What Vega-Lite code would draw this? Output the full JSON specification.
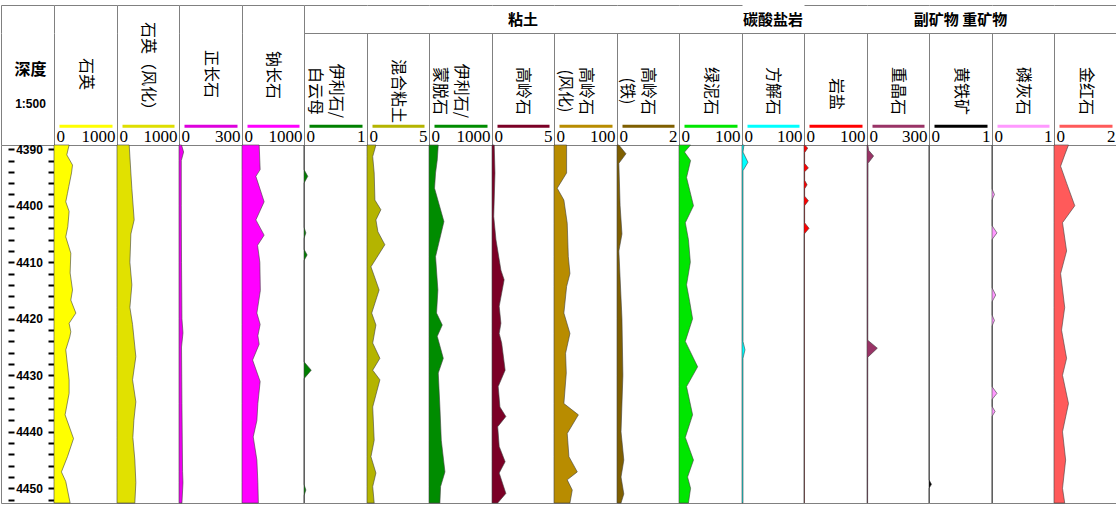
{
  "$schema": "https://vega.github.io/schema/vega-lite/v6.json",
  "padding": {"left": 0, "top": 5, "right": 0, "bottom": 0},
  "background": "white",
  "config": {
    "view": {"stroke": "#808080", "strokeWidth": 1},
    "text": {"font": "Noto Sans CJK SC", "color": "#000"},
    "axis": {"gridColor": "#808080", "gridOpacity": 1, "gridWidth": 1}
  },
  "datasets": {
    "logs": [
      {"k":"石英","d":4389.25,"v":240},{"k":"石英","d":4391.0,"v":203},{"k":"石英","d":4392.8,"v":294},{"k":"石英","d":4394.2,"v":278},{"k":"石英","d":4396.6,"v":235},{"k":"石英","d":4397.8,"v":214},{"k":"石英","d":4399.3,"v":187},{"k":"石英","d":4401.0,"v":240},{"k":"石英","d":4403.7,"v":219},{"k":"石英","d":4405.5,"v":187},{"k":"石英","d":4408.4,"v":267},{"k":"石英","d":4411.9,"v":256},{"k":"石英","d":4414.9,"v":294},{"k":"石英","d":4416.7,"v":267},{"k":"石英","d":4419.0,"v":347},{"k":"石英","d":4420.8,"v":240},{"k":"石英","d":4422.3,"v":267},{"k":"石英","d":4423.2,"v":251},{"k":"石英","d":4425.5,"v":187},{"k":"石英","d":4430.8,"v":240},{"k":"石英","d":4433.2,"v":240},{"k":"石英","d":4437.0,"v":176},{"k":"石英","d":4441.2,"v":310},{"k":"石英","d":4444.4,"v":214},{"k":"石英","d":4447.1,"v":118},{"k":"石英","d":4448.8,"v":187},{"k":"石英","d":4452.6,"v":256},
      {"k":"石英（风化）","d":4389.25,"v":197},{"k":"石英（风化）","d":4394.2,"v":224},{"k":"石英（风化）","d":4397.0,"v":240},{"k":"石英（风化）","d":4402.5,"v":277},{"k":"石英（风化）","d":4405.0,"v":224},{"k":"石英（风化）","d":4410.0,"v":208},{"k":"石英（风化）","d":4414.0,"v":240},{"k":"石英（风化）","d":4418.0,"v":208},{"k":"石英（风化）","d":4421.0,"v":251},{"k":"石英（风化）","d":4426.7,"v":304},{"k":"石英（风化）","d":4430.8,"v":251},{"k":"石英（风化）","d":4434.7,"v":304},{"k":"石英（风化）","d":4438.0,"v":272},{"k":"石英（风化）","d":4441.0,"v":256},{"k":"石英（风化）","d":4445.0,"v":288},{"k":"石英（风化）","d":4449.0,"v":304},{"k":"石英（风化）","d":4452.6,"v":288},
      {"k":"正长石","d":4389.25,"v":12},{"k":"正长石","d":4390.5,"v":22},{"k":"正长石","d":4392.0,"v":11},{"k":"正长石","d":4400.0,"v":11},{"k":"正长石","d":4410.0,"v":12},{"k":"正长石","d":4420.0,"v":14},{"k":"正长石","d":4422.5,"v":19},{"k":"正长石","d":4425.0,"v":12},{"k":"正长石","d":4435.0,"v":14},{"k":"正长石","d":4447.0,"v":17},{"k":"正长石","d":4449.0,"v":19},{"k":"正长石","d":4452.6,"v":14},
      {"k":"钠长石","d":4389.25,"v":277},{"k":"钠长石","d":4393.6,"v":293},{"k":"钠长石","d":4394.8,"v":224},{"k":"钠长石","d":4399.3,"v":357},{"k":"钠长石","d":4402.5,"v":224},{"k":"钠长石","d":4405.2,"v":357},{"k":"钠长石","d":4407.0,"v":251},{"k":"钠长石","d":4410.0,"v":288},{"k":"钠长石","d":4415.0,"v":296},{"k":"钠长石","d":4419.0,"v":240},{"k":"钠长石","d":4421.0,"v":293},{"k":"钠长石","d":4423.0,"v":256},{"k":"钠长石","d":4424.5,"v":277},{"k":"钠长石","d":4427.3,"v":171},{"k":"钠长石","d":4431.1,"v":293},{"k":"钠长石","d":4435.0,"v":256},{"k":"钠长石","d":4438.0,"v":240},{"k":"钠长石","d":4440.9,"v":181},{"k":"钠长石","d":4445.0,"v":240},{"k":"钠长石","d":4449.0,"v":256},{"k":"钠长石","d":4452.6,"v":264},
      {"k":"伊利石/白云母","d":4389.25,"v":0},{"k":"伊利石/白云母","d":4393.6,"v":0},{"k":"伊利石/白云母","d":4394.8,"v":0.06},{"k":"伊利石/白云母","d":4396.0,"v":0},{"k":"伊利石/白云母","d":4403.8,"v":0},{"k":"伊利石/白云母","d":4404.8,"v":0.03},{"k":"伊利石/白云母","d":4405.8,"v":0},{"k":"伊利石/白云母","d":4407.7,"v":0},{"k":"伊利石/白云母","d":4408.7,"v":0.05},{"k":"伊利石/白云母","d":4409.7,"v":0},{"k":"伊利石/白云母","d":4427.6,"v":0},{"k":"伊利石/白云母","d":4429.1,"v":0.115},{"k":"伊利石/白云母","d":4430.6,"v":0},{"k":"伊利石/白云母","d":4449.3,"v":0},{"k":"伊利石/白云母","d":4450.3,"v":0.03},{"k":"伊利石/白云母","d":4451.3,"v":0},{"k":"伊利石/白云母","d":4452.6,"v":0},
      {"k":"混合粘土","d":4389.25,"v":0.72},{"k":"混合粘土","d":4391.3,"v":0.46},{"k":"混合粘土","d":4394.2,"v":0.58},{"k":"混合粘土","d":4399.0,"v":0.64},{"k":"混合粘土","d":4400.7,"v":1.12},{"k":"混合粘土","d":4402.5,"v":0.72},{"k":"混合粘土","d":4404.6,"v":0.88},{"k":"混合粘土","d":4406.9,"v":1.44},{"k":"混合粘土","d":4410.8,"v":0.32},{"k":"混合粘土","d":4414.9,"v":0.98},{"k":"混合粘土","d":4419.0,"v":0.38},{"k":"混合粘土","d":4421.1,"v":0.72},{"k":"混合粘土","d":4424.3,"v":0.46},{"k":"混合粘土","d":4427.0,"v":1.04},{"k":"混合粘土","d":4429.1,"v":0.46},{"k":"混合粘土","d":4430.8,"v":1.04},{"k":"混合粘土","d":4435.6,"v":0.46},{"k":"混合粘土","d":4441.5,"v":0.58},{"k":"混合粘土","d":4444.4,"v":0.32},{"k":"混合粘土","d":4447.3,"v":0.72},{"k":"混合粘土","d":4449.7,"v":0.46},{"k":"混合粘土","d":4452.6,"v":0.58},
      {"k":"伊利石/蒙脱石","d":4389.25,"v":147},{"k":"伊利石/蒙脱石","d":4391.9,"v":131},{"k":"伊利石/蒙脱石","d":4394.2,"v":104},{"k":"伊利石/蒙脱石","d":4396.9,"v":88},{"k":"伊利石/蒙脱石","d":4402.8,"v":237},{"k":"伊利石/蒙脱石","d":4409.0,"v":104},{"k":"伊利石/蒙脱石","d":4414.9,"v":141},{"k":"伊利石/蒙脱石","d":4419.0,"v":120},{"k":"伊利石/蒙脱石","d":4421.1,"v":211},{"k":"伊利石/蒙脱石","d":4423.1,"v":131},{"k":"伊利石/蒙脱石","d":4427.0,"v":227},{"k":"伊利石/蒙脱石","d":4429.6,"v":147},{"k":"伊利石/蒙脱石","d":4435.6,"v":173},{"k":"伊利石/蒙脱石","d":4441.5,"v":195},{"k":"伊利石/蒙脱石","d":4447.1,"v":253},{"k":"伊利石/蒙脱石","d":4449.7,"v":184},{"k":"伊利石/蒙脱石","d":4452.6,"v":173},
      {"k":"高岭石","d":4389.25,"v":0.18},{"k":"高岭石","d":4394.2,"v":0.24},{"k":"高岭石","d":4401.9,"v":0.14},{"k":"高岭石","d":4406.0,"v":0.32},{"k":"高岭石","d":4411.4,"v":0.72},{"k":"高岭石","d":4413.1,"v":0.98},{"k":"高岭石","d":4417.8,"v":0.58},{"k":"高岭石","d":4420.8,"v":0.72},{"k":"高岭石","d":4422.6,"v":0.58},{"k":"高岭石","d":4424.3,"v":0.78},{"k":"高岭石","d":4429.1,"v":1.06},{"k":"高岭石","d":4432.0,"v":0.5},{"k":"高岭石","d":4435.6,"v":0.64},{"k":"高岭石","d":4437.3,"v":1.12},{"k":"高岭石","d":4439.1,"v":0.46},{"k":"高岭石","d":4442.6,"v":0.58},{"k":"高岭石","d":4445.3,"v":1.06},{"k":"高岭石","d":4447.3,"v":0.58},{"k":"高岭石","d":4450.9,"v":1.12},{"k":"高岭石","d":4452.6,"v":0.46},
      {"k":"高岭石(风化)","d":4389.25,"v":20},{"k":"高岭石(风化)","d":4394.2,"v":20},{"k":"高岭石(风化)","d":4396.9,"v":5.1},{"k":"高岭石(风化)","d":4399.0,"v":15.7},{"k":"高岭石(风化)","d":4403.1,"v":21},{"k":"高岭石(风化)","d":4409.0,"v":22.7},{"k":"高岭石(风化)","d":4412.0,"v":25.3},{"k":"高岭石(风化)","d":4414.3,"v":20},{"k":"高岭石(风化)","d":4419.0,"v":15.7},{"k":"高岭石(风化)","d":4422.6,"v":25.3},{"k":"高岭石(风化)","d":4426.1,"v":18.4},{"k":"高岭石(风化)","d":4429.6,"v":19.5},{"k":"高岭石(风化)","d":4435.0,"v":15.7},{"k":"高岭石(风化)","d":4437.0,"v":38.7},{"k":"高岭石(风化)","d":4440.3,"v":21},{"k":"高岭石(风化)","d":4444.4,"v":23.7},{"k":"高岭石(风化)","d":4447.1,"v":37},{"k":"高岭石(风化)","d":4448.5,"v":21},{"k":"高岭石(风化)","d":4450.3,"v":29},{"k":"高岭石(风化)","d":4452.6,"v":25.3},
      {"k":"高岭石(铁)","d":4389.25,"v":0.06},{"k":"高岭石(铁)","d":4390.8,"v":0.29},{"k":"高岭石(铁)","d":4392.5,"v":0.06},{"k":"高岭石(铁)","d":4400.0,"v":0.1},{"k":"高岭石(铁)","d":4405.0,"v":0.16},{"k":"高岭石(铁)","d":4408.0,"v":0.06},{"k":"高岭石(铁)","d":4420.0,"v":0.16},{"k":"高岭石(铁)","d":4430.0,"v":0.19},{"k":"高岭石(铁)","d":4440.0,"v":0.13},{"k":"高岭石(铁)","d":4445.0,"v":0.22},{"k":"高岭石(铁)","d":4448.0,"v":0.13},{"k":"高岭石(铁)","d":4451.0,"v":0.22},{"k":"高岭石(铁)","d":4452.6,"v":0.13},
      {"k":"绿泥石","d":4389.25,"v":18.4},{"k":"绿泥石","d":4390.5,"v":8.8},{"k":"绿泥石","d":4392.0,"v":18.4},{"k":"绿泥石","d":4395.0,"v":12},{"k":"绿泥石","d":4400.0,"v":23},{"k":"绿泥石","d":4403.0,"v":10},{"k":"绿泥石","d":4406.0,"v":15},{"k":"绿泥石","d":4410.0,"v":18},{"k":"绿泥石","d":4414.0,"v":12},{"k":"绿泥石","d":4417.0,"v":17},{"k":"绿泥石","d":4420.0,"v":21.6},{"k":"绿泥石","d":4424.0,"v":10},{"k":"绿泥石","d":4428.5,"v":29.6},{"k":"绿泥石","d":4432.0,"v":12},{"k":"绿泥石","d":4437.0,"v":21.6},{"k":"绿泥石","d":4441.0,"v":10},{"k":"绿泥石","d":4445.0,"v":23},{"k":"绿泥石","d":4448.0,"v":13.6},{"k":"绿泥石","d":4450.0,"v":18.4},{"k":"绿泥石","d":4452.6,"v":15},
      {"k":"方解石","d":4389.25,"v":3.2},{"k":"方解石","d":4390.5,"v":1.6},{"k":"方解石","d":4392.3,"v":9.6},{"k":"方解石","d":4393.8,"v":1.6},{"k":"方解石","d":4424.0,"v":1.6},{"k":"方解石","d":4425.5,"v":4.8},{"k":"方解石","d":4427.0,"v":1.6},{"k":"方解石","d":4452.6,"v":1.6},
      {"k":"岩盐","d":4389.25,"v":1},{"k":"岩盐","d":4389.8,"v":6},{"k":"岩盐","d":4390.6,"v":1},{"k":"岩盐","d":4392.5,"v":1},{"k":"岩盐","d":4393.3,"v":7},{"k":"岩盐","d":4394.0,"v":1},{"k":"岩盐","d":4395.5,"v":1},{"k":"岩盐","d":4396.3,"v":5},{"k":"岩盐","d":4397.0,"v":1},{"k":"岩盐","d":4398.3,"v":1},{"k":"岩盐","d":4399.1,"v":7},{"k":"岩盐","d":4400.0,"v":1},{"k":"岩盐","d":4403.0,"v":1},{"k":"岩盐","d":4404.0,"v":8},{"k":"岩盐","d":4405.0,"v":0.5},{"k":"岩盐","d":4452.6,"v":0.5},
      {"k":"重晶石","d":4389.25,"v":4},{"k":"重晶石","d":4390.2,"v":8},{"k":"重晶石","d":4391.2,"v":32},{"k":"重晶石","d":4392.5,"v":5},{"k":"重晶石","d":4423.8,"v":4},{"k":"重晶石","d":4425.2,"v":50},{"k":"重晶石","d":4426.8,"v":4},{"k":"重晶石","d":4452.6,"v":3},
      {"k":"黄铁矿","d":4389.25,"v":0},{"k":"黄铁矿","d":4448.5,"v":0},{"k":"黄铁矿","d":4449.3,"v":0.04},{"k":"黄铁矿","d":4450.0,"v":0},{"k":"黄铁矿","d":4452.6,"v":0},
      {"k":"磷灰石","d":4389.25,"v":0},{"k":"磷灰石","d":4397.0,"v":0},{"k":"磷灰石","d":4398.0,"v":0.04},{"k":"磷灰石","d":4399.0,"v":0},{"k":"磷灰石","d":4403.5,"v":0},{"k":"磷灰石","d":4404.8,"v":0.08},{"k":"磷灰石","d":4406.0,"v":0},{"k":"磷灰石","d":4414.5,"v":0},{"k":"磷灰石","d":4415.8,"v":0.06},{"k":"磷灰石","d":4417.0,"v":0},{"k":"磷灰石","d":4419.3,"v":0},{"k":"磷灰石","d":4420.3,"v":0.04},{"k":"磷灰石","d":4421.3,"v":0},{"k":"磷灰石","d":4432.0,"v":0},{"k":"磷灰石","d":4433.2,"v":0.08},{"k":"磷灰石","d":4434.3,"v":0},{"k":"磷灰石","d":4435.5,"v":0},{"k":"磷灰石","d":4436.4,"v":0.05},{"k":"磷灰石","d":4437.3,"v":0},{"k":"磷灰石","d":4452.6,"v":0},
      {"k":"金红石","d":4389.25,"v":0.46},{"k":"金红石","d":4391.0,"v":0.34},{"k":"金红石","d":4393.0,"v":0.21},{"k":"金红石","d":4396.0,"v":0.4},{"k":"金红石","d":4400.0,"v":0.66},{"k":"金红石","d":4403.0,"v":0.27},{"k":"金红石","d":4408.0,"v":0.4},{"k":"金红石","d":4412.0,"v":0.21},{"k":"金红石","d":4418.0,"v":0.34},{"k":"金红石","d":4422.0,"v":0.24},{"k":"金红石","d":4427.0,"v":0.4},{"k":"金红石","d":4430.0,"v":0.27},{"k":"金红石","d":4435.0,"v":0.46},{"k":"金红石","d":4440.0,"v":0.27},{"k":"金红石","d":4445.0,"v":0.37},{"k":"金红石","d":4450.0,"v":0.27},{"k":"金红石","d":4452.6,"v":0.34}
    ],
    "depthTicks": [
      {"d":4390},{"d":4392},{"d":4394},{"d":4396},{"d":4398},{"d":4400},{"d":4402},{"d":4404},{"d":4406},{"d":4408},{"d":4410},{"d":4412},{"d":4414},{"d":4416},{"d":4418},{"d":4420},{"d":4422},{"d":4424},{"d":4426},{"d":4428},{"d":4430},{"d":4432},{"d":4434},{"d":4436},{"d":4438},{"d":4440},{"d":4442},{"d":4444},{"d":4446},{"d":4448},{"d":4450},{"d":4452}
    ]
  },
  "columns": 18,
  "spacing": 0,
  "align": "each",
  "bounds": "flush",
  "concat": [
    {"width": 53, "height": 28, "view": {"stroke": null}, "data": {"values": [{"t": "深度"}]},
      "mark": {"type": "text", "fontWeight": "bold", "fontSize": 16, "dx": 3, "dy": 51},
      "encoding": {"text": {"field": "t"},
        "x": {"datum": 0.5, "type": "quantitative", "scale": {"domain": [0, 1]}, "axis": {"values": [0], "grid": true, "domain": false, "ticks": false, "labels": false, "title": null}},
        "y": {"datum": 0.5, "type": "quantitative", "scale": {"domain": [0, 1]}, "axis": {"values": [1], "grid": true, "domain": false, "ticks": false, "labels": false, "title": null}}}},
    {"width": 63, "height": 28, "view": {"stroke": null}, "data": {"values": [{"t": ""}]}, "mark": {"type": "text"},
      "encoding": {"text": {"field": "t"},
        "x": {"datum": 0.5, "type": "quantitative", "scale": {"domain": [0, 1]}, "axis": {"values": [0], "grid": true, "domain": false, "ticks": false, "labels": false, "title": null}},
        "y": {"datum": 0.5, "type": "quantitative", "scale": {"domain": [0, 1]}, "axis": {"values": [1], "grid": true, "domain": false, "ticks": false, "labels": false, "title": null}}}},
    {"width": 62, "height": 28, "view": {"stroke": null}, "data": {"values": [{"t": ""}]}, "mark": {"type": "text"},
      "encoding": {"text": {"field": "t"},
        "x": {"datum": 0.5, "type": "quantitative", "scale": {"domain": [0, 1]}, "axis": {"values": [0], "grid": true, "domain": false, "ticks": false, "labels": false, "title": null}},
        "y": {"datum": 0.5, "type": "quantitative", "scale": {"domain": [0, 1]}, "axis": {"values": [1], "grid": true, "domain": false, "ticks": false, "labels": false, "title": null}}}},
    {"width": 63, "height": 28, "view": {"stroke": null}, "data": {"values": [{"t": ""}]}, "mark": {"type": "text"},
      "encoding": {"text": {"field": "t"},
        "x": {"datum": 0.5, "type": "quantitative", "scale": {"domain": [0, 1]}, "axis": {"values": [0], "grid": true, "domain": false, "ticks": false, "labels": false, "title": null}},
        "y": {"datum": 0.5, "type": "quantitative", "scale": {"domain": [0, 1]}, "axis": {"values": [1], "grid": true, "domain": false, "ticks": false, "labels": false, "title": null}}}},
    {"width": 62, "height": 28, "view": {"stroke": null}, "data": {"values": [{"t": ""}]}, "mark": {"type": "text"},
      "encoding": {"text": {"field": "t"},
        "x": {"datum": 0.5, "type": "quantitative", "scale": {"domain": [0, 1]}, "axis": {"values": [0], "grid": true, "domain": false, "ticks": false, "labels": false, "title": null}},
        "y": {"datum": 0.5, "type": "quantitative", "scale": {"domain": [0, 1]}, "axis": {"values": [1], "grid": true, "domain": false, "ticks": false, "labels": false, "title": null}}}},
    {"width": 63, "height": 28, "view": {"stroke": null}, "data": {"values": [{"t": ""}]}, "mark": {"type": "text"},
      "encoding": {"text": {"field": "t"},
        "x": {"datum": 0.5, "type": "quantitative", "scale": {"domain": [0, 1]}, "axis": {"values": [0], "grid": true, "domain": false, "ticks": false, "labels": false, "title": null}},
        "y": {"datum": 0.5, "type": "quantitative", "scale": {"domain": [0, 1]}, "axis": {"values": [0, 1], "grid": true, "domain": false, "ticks": false, "labels": false, "title": null}}}},
    {"width": 62, "height": 28, "view": {"stroke": null}, "data": {"values": [{"t": ""}]}, "mark": {"type": "text"},
      "encoding": {"text": {"field": "t"}, "y": {"datum": 0.5, "type": "quantitative", "scale": {"domain": [0, 1]}, "axis": {"values": [0, 1], "grid": true, "domain": false, "ticks": false, "labels": false, "title": null}}}},
    {"width": 63, "height": 28, "view": {"stroke": null}, "data": {"values": [{"t": ""}]}, "mark": {"type": "text"},
      "encoding": {"text": {"field": "t"}, "y": {"datum": 0.5, "type": "quantitative", "scale": {"domain": [0, 1]}, "axis": {"values": [0, 1], "grid": true, "domain": false, "ticks": false, "labels": false, "title": null}}}},
    {"width": 62, "height": 28, "view": {"stroke": null}, "data": {"values": [{"t": "粘土"}]}, "mark": {"type": "text", "fontWeight": "bold", "fontSize": 15, "dy": 1},
      "encoding": {"text": {"field": "t"}, "y": {"datum": 0.5, "type": "quantitative", "scale": {"domain": [0, 1]}, "axis": {"values": [0, 1], "grid": true, "domain": false, "ticks": false, "labels": false, "title": null}}}},
    {"width": 63, "height": 28, "view": {"stroke": null}, "data": {"values": [{"t": ""}]}, "mark": {"type": "text"},
      "encoding": {"text": {"field": "t"}, "y": {"datum": 0.5, "type": "quantitative", "scale": {"domain": [0, 1]}, "axis": {"values": [0, 1], "grid": true, "domain": false, "ticks": false, "labels": false, "title": null}}}},
    {"width": 62, "height": 28, "view": {"stroke": null}, "data": {"values": [{"t": ""}]}, "mark": {"type": "text"},
      "encoding": {"text": {"field": "t"}, "y": {"datum": 0.5, "type": "quantitative", "scale": {"domain": [0, 1]}, "axis": {"values": [0, 1], "grid": true, "domain": false, "ticks": false, "labels": false, "title": null}}}},
    {"width": 63, "height": 28, "view": {"stroke": null}, "data": {"values": [{"t": ""}]}, "mark": {"type": "text"},
      "encoding": {"text": {"field": "t"}, "y": {"datum": 0.5, "type": "quantitative", "scale": {"domain": [0, 1]}, "axis": {"values": [0, 1], "grid": true, "domain": false, "ticks": false, "labels": false, "title": null}}}},
    {"width": 62, "height": 28, "data": {"values": [{"t": "碳酸盐岩"}]}, "mark": {"type": "text", "fontWeight": "bold", "fontSize": 15, "dy": 1}, "encoding": {"text": {"field": "t"}}},
    {"width": 63, "height": 28, "view": {"stroke": null}, "data": {"values": [{"t": ""}]}, "mark": {"type": "text"},
      "encoding": {"text": {"field": "t"}, "y": {"datum": 0.5, "type": "quantitative", "scale": {"domain": [0, 1]}, "axis": {"values": [0, 1], "grid": true, "domain": false, "ticks": false, "labels": false, "title": null}}}},
    {"width": 62, "height": 28, "view": {"stroke": null}, "data": {"values": [{"t": ""}]}, "mark": {"type": "text"},
      "encoding": {"text": {"field": "t"}, "y": {"datum": 0.5, "type": "quantitative", "scale": {"domain": [0, 1]}, "axis": {"values": [0, 1], "grid": true, "domain": false, "ticks": false, "labels": false, "title": null}}}},
    {"width": 63, "height": 28, "view": {"stroke": null}, "data": {"values": [{"t": "副矿物 重矿物"}]}, "mark": {"type": "text", "fontWeight": "bold", "fontSize": 15, "dy": 1},
      "encoding": {"text": {"field": "t"}, "y": {"datum": 0.5, "type": "quantitative", "scale": {"domain": [0, 1]}, "axis": {"values": [0, 1], "grid": true, "domain": false, "ticks": false, "labels": false, "title": null}}}},
    {"width": 62, "height": 28, "view": {"stroke": null}, "data": {"values": [{"t": ""}]}, "mark": {"type": "text"},
      "encoding": {"text": {"field": "t"}, "y": {"datum": 0.5, "type": "quantitative", "scale": {"domain": [0, 1]}, "axis": {"values": [0, 1], "grid": true, "domain": false, "ticks": false, "labels": false, "title": null}}}},
    {"width": 63, "height": 28, "view": {"stroke": null}, "data": {"values": [{"t": ""}]}, "mark": {"type": "text"},
      "encoding": {"text": {"field": "t"},
        "x": {"datum": 0.5, "type": "quantitative", "scale": {"domain": [0, 1]}, "axis": {"values": [1], "grid": true, "domain": false, "ticks": false, "labels": false, "title": null}},
        "y": {"datum": 0.5, "type": "quantitative", "scale": {"domain": [0, 1]}, "axis": {"values": [0, 1], "grid": true, "domain": false, "ticks": false, "labels": false, "title": null}}}},

    {"width": 53, "height": 112, "view": {"stroke": null}, "data": {"values": [{"t": "1:500"}]},
      "mark": {"type": "text", "font": "Liberation Sans", "fontWeight": "bold", "fontSize": 12, "dx": 3, "dy": 15},
      "encoding": {"text": {"field": "t"},
        "x": {"datum": 0.5, "type": "quantitative", "scale": {"domain": [0, 1]}, "axis": {"values": [0], "grid": true, "domain": false, "ticks": false, "labels": false, "title": null}}}},
    {"width": 63, "height": 112, "view": {"stroke": null}, "data": {"values": [{"n": "石英"}]}, "mark": {"type": "text", "angle": 90, "fontSize": 16, "dx": -15, "lineBreak": "\n", "lineHeight": 21},
      "encoding": {"text": {"field": "n"}, "x": {"datum": 500, "type": "quantitative", "scale": {"domain": [0, 1000], "nice": false},
        "axis": {"orient": "bottom", "offset": -19.3, "values": [0, 1000], "format": "d", "ticks": false, "tickSize": 0, "grid": true, "title": null, "domainColor": "#ffff00", "domainWidth": 3, "domainDash": [0, 5, 53, 5], "labelFlush": true, "labelFlushOffset": -2, "labelPadding": 16, "labelBaseline": "alphabetic", "labelFont": "Liberation Serif", "labelFontSize": 17, "labelColor": "#000", "labelOverlap": false, "labelBound": false}}}},
    {"width": 62, "height": 112, "view": {"stroke": null}, "data": {"values": [{"n": "石英（风化）"}]}, "mark": {"type": "text", "angle": 90, "fontSize": 16, "dx": -19, "lineBreak": "\n", "lineHeight": 21},
      "encoding": {"text": {"field": "n"}, "x": {"datum": 500, "type": "quantitative", "scale": {"domain": [0, 1000], "nice": false},
        "axis": {"orient": "bottom", "offset": -19.3, "values": [0, 1000], "format": "d", "ticks": false, "tickSize": 0, "grid": true, "title": null, "domainColor": "#dede00", "domainWidth": 3, "domainDash": [0, 5, 52, 5], "labelFlush": true, "labelFlushOffset": -2, "labelPadding": 16, "labelBaseline": "alphabetic", "labelFont": "Liberation Serif", "labelFontSize": 17, "labelColor": "#000", "labelOverlap": false, "labelBound": false}}}},
    {"width": 63, "height": 112, "view": {"stroke": null}, "data": {"values": [{"n": "正长石"}]}, "mark": {"type": "text", "angle": 90, "fontSize": 16, "dx": -15, "lineBreak": "\n", "lineHeight": 21},
      "encoding": {"text": {"field": "n"}, "x": {"datum": 150, "type": "quantitative", "scale": {"domain": [0, 300], "nice": false},
        "axis": {"orient": "bottom", "offset": -19.3, "values": [0, 300], "format": "d", "ticks": false, "tickSize": 0, "grid": true, "title": null, "domainColor": "#dd00dd", "domainWidth": 3, "domainDash": [0, 5, 53, 5], "labelFlush": true, "labelFlushOffset": -2, "labelPadding": 16, "labelBaseline": "alphabetic", "labelFont": "Liberation Serif", "labelFontSize": 17, "labelColor": "#000", "labelOverlap": false, "labelBound": false}}}},
    {"width": 62, "height": 112, "view": {"stroke": null}, "data": {"values": [{"n": "钠长石"}]}, "mark": {"type": "text", "angle": 90, "fontSize": 16, "dx": -14, "lineBreak": "\n", "lineHeight": 21},
      "encoding": {"text": {"field": "n"}, "x": {"datum": 500, "type": "quantitative", "scale": {"domain": [0, 1000], "nice": false},
        "axis": {"orient": "bottom", "offset": -19.3, "values": [0, 1000], "format": "d", "ticks": false, "tickSize": 0, "grid": true, "title": null, "domainColor": "#ff00ff", "domainWidth": 3, "domainDash": [0, 5, 52, 5], "labelFlush": true, "labelFlushOffset": -2, "labelPadding": 16, "labelBaseline": "alphabetic", "labelFont": "Liberation Serif", "labelFontSize": 17, "labelColor": "#000", "labelOverlap": false, "labelBound": false}}}},
    {"width": 63, "height": 112, "data": {"values": [{"n": "伊利石/\n白云母"}]}, "mark": {"type": "text", "angle": 90, "fontSize": 16, "dx": 2, "lineBreak": "\n", "lineHeight": 21},
      "encoding": {"text": {"field": "n"}, "x": {"datum": 0.5, "type": "quantitative", "scale": {"domain": [0, 1], "nice": false},
        "axis": {"orient": "bottom", "offset": -19.3, "values": [0, 1], "format": "d", "ticks": false, "tickSize": 0, "grid": false, "title": null, "domainColor": "#008000", "domainWidth": 3, "domainDash": [0, 5, 53, 5], "labelFlush": true, "labelFlushOffset": -2, "labelPadding": 16, "labelBaseline": "alphabetic", "labelFont": "Liberation Serif", "labelFontSize": 17, "labelColor": "#000", "labelOverlap": false, "labelBound": false}}}},
    {"width": 62, "height": 112, "data": {"values": [{"n": "混合粘土"}]}, "mark": {"type": "text", "angle": 90, "fontSize": 16, "dx": 2, "lineBreak": "\n", "lineHeight": 21},
      "encoding": {"text": {"field": "n"}, "x": {"datum": 2.5, "type": "quantitative", "scale": {"domain": [0, 5], "nice": false},
        "axis": {"orient": "bottom", "offset": -19.3, "values": [0, 5], "format": "d", "ticks": false, "tickSize": 0, "grid": false, "title": null, "domainColor": "#b4b400", "domainWidth": 3, "domainDash": [0, 5, 52, 5], "labelFlush": true, "labelFlushOffset": -2, "labelPadding": 16, "labelBaseline": "alphabetic", "labelFont": "Liberation Serif", "labelFontSize": 17, "labelColor": "#000", "labelOverlap": false, "labelBound": false}}}},
    {"width": 63, "height": 112, "data": {"values": [{"n": "伊利石/\n蒙脱石"}]}, "mark": {"type": "text", "angle": 90, "fontSize": 16, "dx": 2, "lineBreak": "\n", "lineHeight": 21},
      "encoding": {"text": {"field": "n"}, "x": {"datum": 500, "type": "quantitative", "scale": {"domain": [0, 1000], "nice": false},
        "axis": {"orient": "bottom", "offset": -19.3, "values": [0, 1000], "format": "d", "ticks": false, "tickSize": 0, "grid": false, "title": null, "domainColor": "#008c00", "domainWidth": 3, "domainDash": [0, 5, 53, 5], "labelFlush": true, "labelFlushOffset": -2, "labelPadding": 16, "labelBaseline": "alphabetic", "labelFont": "Liberation Serif", "labelFontSize": 17, "labelColor": "#000", "labelOverlap": false, "labelBound": false}}}},
    {"width": 62, "height": 112, "data": {"values": [{"n": "高岭石"}]}, "mark": {"type": "text", "angle": 90, "fontSize": 16, "dx": 2, "lineBreak": "\n", "lineHeight": 21},
      "encoding": {"text": {"field": "n"}, "x": {"datum": 2.5, "type": "quantitative", "scale": {"domain": [0, 5], "nice": false},
        "axis": {"orient": "bottom", "offset": -19.3, "values": [0, 5], "format": "d", "ticks": false, "tickSize": 0, "grid": false, "title": null, "domainColor": "#7b0026", "domainWidth": 3, "domainDash": [0, 5, 52, 5], "labelFlush": true, "labelFlushOffset": -2, "labelPadding": 16, "labelBaseline": "alphabetic", "labelFont": "Liberation Serif", "labelFontSize": 17, "labelColor": "#000", "labelOverlap": false, "labelBound": false}}}},
    {"width": 63, "height": 112, "data": {"values": [{"n": "高岭石\n(风化)"}]}, "mark": {"type": "text", "angle": 90, "fontSize": 16, "dx": 2, "lineBreak": "\n", "lineHeight": 21},
      "encoding": {"text": {"field": "n"}, "x": {"datum": 50, "type": "quantitative", "scale": {"domain": [0, 100], "nice": false},
        "axis": {"orient": "bottom", "offset": -19.3, "values": [0, 100], "format": "d", "ticks": false, "tickSize": 0, "grid": false, "title": null, "domainColor": "#b88c00", "domainWidth": 3, "domainDash": [0, 5, 53, 5], "labelFlush": true, "labelFlushOffset": -2, "labelPadding": 16, "labelBaseline": "alphabetic", "labelFont": "Liberation Serif", "labelFontSize": 17, "labelColor": "#000", "labelOverlap": false, "labelBound": false}}}},
    {"width": 62, "height": 112, "data": {"values": [{"n": "高岭石\n(铁)"}]}, "mark": {"type": "text", "angle": 90, "fontSize": 16, "dx": 2, "lineBreak": "\n", "lineHeight": 21},
      "encoding": {"text": {"field": "n"}, "x": {"datum": 1, "type": "quantitative", "scale": {"domain": [0, 2], "nice": false},
        "axis": {"orient": "bottom", "offset": -19.3, "values": [0, 2], "format": "d", "ticks": false, "tickSize": 0, "grid": false, "title": null, "domainColor": "#7f5f00", "domainWidth": 3, "domainDash": [0, 5, 52, 5], "labelFlush": true, "labelFlushOffset": -2, "labelPadding": 16, "labelBaseline": "alphabetic", "labelFont": "Liberation Serif", "labelFontSize": 17, "labelColor": "#000", "labelOverlap": false, "labelBound": false}}}},
    {"width": 63, "height": 112, "data": {"values": [{"n": "绿泥石"}]}, "mark": {"type": "text", "angle": 90, "fontSize": 16, "dx": 2, "lineBreak": "\n", "lineHeight": 21},
      "encoding": {"text": {"field": "n"}, "x": {"datum": 50, "type": "quantitative", "scale": {"domain": [0, 100], "nice": false},
        "axis": {"orient": "bottom", "offset": -19.3, "values": [0, 100], "format": "d", "ticks": false, "tickSize": 0, "grid": false, "title": null, "domainColor": "#00e600", "domainWidth": 3, "domainDash": [0, 5, 53, 5], "labelFlush": true, "labelFlushOffset": -2, "labelPadding": 16, "labelBaseline": "alphabetic", "labelFont": "Liberation Serif", "labelFontSize": 17, "labelColor": "#000", "labelOverlap": false, "labelBound": false}}}},
    {"width": 62, "height": 112, "data": {"values": [{"n": "方解石"}]}, "mark": {"type": "text", "angle": 90, "fontSize": 16, "dx": 2, "lineBreak": "\n", "lineHeight": 21},
      "encoding": {"text": {"field": "n"}, "x": {"datum": 50, "type": "quantitative", "scale": {"domain": [0, 100], "nice": false},
        "axis": {"orient": "bottom", "offset": -19.3, "values": [0, 100], "format": "d", "ticks": false, "tickSize": 0, "grid": false, "title": null, "domainColor": "#00ffff", "domainWidth": 3, "domainDash": [0, 5, 52, 5], "labelFlush": true, "labelFlushOffset": -2, "labelPadding": 16, "labelBaseline": "alphabetic", "labelFont": "Liberation Serif", "labelFontSize": 17, "labelColor": "#000", "labelOverlap": false, "labelBound": false}}}},
    {"width": 63, "height": 112, "data": {"values": [{"n": "岩盐"}]}, "mark": {"type": "text", "angle": 90, "fontSize": 16, "dx": 5, "lineBreak": "\n", "lineHeight": 21},
      "encoding": {"text": {"field": "n"}, "x": {"datum": 50, "type": "quantitative", "scale": {"domain": [0, 100], "nice": false},
        "axis": {"orient": "bottom", "offset": -19.3, "values": [0, 100], "format": "d", "ticks": false, "tickSize": 0, "grid": false, "title": null, "domainColor": "#ff0000", "domainWidth": 3, "domainDash": [0, 5, 53, 5], "labelFlush": true, "labelFlushOffset": -2, "labelPadding": 16, "labelBaseline": "alphabetic", "labelFont": "Liberation Serif", "labelFontSize": 17, "labelColor": "#000", "labelOverlap": false, "labelBound": false}}}},
    {"width": 62, "height": 112, "data": {"values": [{"n": "重晶石"}]}, "mark": {"type": "text", "angle": 90, "fontSize": 16, "dx": 2, "lineBreak": "\n", "lineHeight": 21},
      "encoding": {"text": {"field": "n"}, "x": {"datum": 150, "type": "quantitative", "scale": {"domain": [0, 300], "nice": false},
        "axis": {"orient": "bottom", "offset": -19.3, "values": [0, 300], "format": "d", "ticks": false, "tickSize": 0, "grid": false, "title": null, "domainColor": "#993366", "domainWidth": 3, "domainDash": [0, 5, 52, 5], "labelFlush": true, "labelFlushOffset": -2, "labelPadding": 16, "labelBaseline": "alphabetic", "labelFont": "Liberation Serif", "labelFontSize": 17, "labelColor": "#000", "labelOverlap": false, "labelBound": false}}}},
    {"width": 63, "height": 112, "data": {"values": [{"n": "黄铁矿"}]}, "mark": {"type": "text", "angle": 90, "fontSize": 16, "dx": 2, "lineBreak": "\n", "lineHeight": 21},
      "encoding": {"text": {"field": "n"}, "x": {"datum": 0.5, "type": "quantitative", "scale": {"domain": [0, 1], "nice": false},
        "axis": {"orient": "bottom", "offset": -19.3, "values": [0, 1], "format": "d", "ticks": false, "tickSize": 0, "grid": false, "title": null, "domainColor": "#000000", "domainWidth": 3, "domainDash": [0, 5, 53, 5], "labelFlush": true, "labelFlushOffset": -2, "labelPadding": 16, "labelBaseline": "alphabetic", "labelFont": "Liberation Serif", "labelFontSize": 17, "labelColor": "#000", "labelOverlap": false, "labelBound": false}}}},
    {"width": 62, "height": 112, "data": {"values": [{"n": "磷灰石"}]}, "mark": {"type": "text", "angle": 90, "fontSize": 16, "dx": 2, "lineBreak": "\n", "lineHeight": 21},
      "encoding": {"text": {"field": "n"}, "x": {"datum": 0.5, "type": "quantitative", "scale": {"domain": [0, 1], "nice": false},
        "axis": {"orient": "bottom", "offset": -19.3, "values": [0, 1], "format": "d", "ticks": false, "tickSize": 0, "grid": false, "title": null, "domainColor": "#ff99ff", "domainWidth": 3, "domainDash": [0, 5, 52, 5], "labelFlush": true, "labelFlushOffset": -2, "labelPadding": 16, "labelBaseline": "alphabetic", "labelFont": "Liberation Serif", "labelFontSize": 17, "labelColor": "#000", "labelOverlap": false, "labelBound": false}}}},
    {"width": 63, "height": 112, "data": {"values": [{"n": "金红石"}]}, "mark": {"type": "text", "angle": 90, "fontSize": 16, "dx": 2, "lineBreak": "\n", "lineHeight": 21},
      "encoding": {"text": {"field": "n"}, "x": {"datum": 1, "type": "quantitative", "scale": {"domain": [0, 2], "nice": false},
        "axis": {"orient": "bottom", "offset": -19.3, "values": [0, 2], "format": "d", "ticks": false, "tickSize": 0, "grid": false, "title": null, "domainColor": "#ff5a5a", "domainWidth": 3, "domainDash": [0, 5, 53, 5], "labelFlush": true, "labelFlushOffset": -2, "labelPadding": 16, "labelBaseline": "alphabetic", "labelFont": "Liberation Serif", "labelFontSize": 17, "labelColor": "#000", "labelOverlap": false, "labelBound": false}}}},

    {"width": 53, "height": 358, "data": {"name": "depthTicks"}, "mark": {"type": "point", "opacity": 0},
      "encoding": {"y": {"field": "d", "type": "quantitative", "scale": {"domain": [4389.25, 4452.6], "reverse": true, "nice": false, "zero": false},
        "axis": {"orient": "left", "offset": -13, "values": [4390,4392,4394,4396,4398,4400,4402,4404,4406,4408,4410,4412,4414,4416,4418,4420,4422,4424,4426,4428,4430,4432,4434,4436,4438,4440,4442,4444,4446,4448,4450,4452],
          "format": "d", "labelExpr": "datum.value % 10 === 0 ? datum.label : ''", "tickSize": 6, "tickWidth": 2, "tickColor": "#000", "domain": false, "grid": false, "title": null,
          "labelAlign": "center", "labelBaseline": "middle", "labelPadding": -21, "labelFont": "Liberation Sans", "labelFontWeight": "bold", "labelFontSize": 12, "labelColor": "#000", "labelOverlap": false, "labelBound": false}}}},
    {"width": 63, "height": 358, "data": {"name": "logs"}, "transform": [{"filter": "datum.k === '石英'"}], "mark": {"type": "area", "orient": "horizontal", "fill": "#ffff00", "stroke": "#404040", "strokeWidth": 0.6},
      "encoding": {"y": {"field": "d", "type": "quantitative", "scale": {"domain": [4389.25, 4452.6], "reverse": true, "nice": false, "zero": false},
          "axis": {"orient": "left", "values": [4390,4392,4394,4396,4398,4400,4402,4404,4406,4408,4410,4412,4414,4416,4418,4420,4422,4424,4426,4428,4430,4432,4434,4436,4438,4440,4442,4444,4446,4448,4450,4452], "tickSize": 6, "tickWidth": 2, "tickColor": "#000", "labels": false, "domain": false, "grid": false, "title": null}},
        "x": {"field": "v", "type": "quantitative", "stack": null, "scale": {"domain": [0, 1000], "nice": false}, "axis": null}}},
    {"width": 62, "height": 358, "data": {"name": "logs"}, "transform": [{"filter": "datum.k === '石英（风化）'"}], "mark": {"type": "area", "orient": "horizontal", "fill": "#e1e100", "stroke": "#404040", "strokeWidth": 0.6},
      "encoding": {"y": {"field": "d", "type": "quantitative", "scale": {"domain": [4389.25, 4452.6], "reverse": true, "nice": false, "zero": false}, "axis": null},
        "x": {"field": "v", "type": "quantitative", "stack": null, "scale": {"domain": [0, 1000], "nice": false}, "axis": null}}},
    {"width": 63, "height": 358, "data": {"name": "logs"}, "transform": [{"filter": "datum.k === '正长石'"}], "mark": {"type": "area", "orient": "horizontal", "fill": "#ee00ee", "stroke": "#404040", "strokeWidth": 0.6},
      "encoding": {"y": {"field": "d", "type": "quantitative", "scale": {"domain": [4389.25, 4452.6], "reverse": true, "nice": false, "zero": false}, "axis": null},
        "x": {"field": "v", "type": "quantitative", "stack": null, "scale": {"domain": [0, 300], "nice": false}, "axis": null}}},
    {"width": 62, "height": 358, "data": {"name": "logs"}, "transform": [{"filter": "datum.k === '钠长石'"}], "mark": {"type": "area", "orient": "horizontal", "fill": "#ff00ff", "stroke": "#404040", "strokeWidth": 0.6},
      "encoding": {"y": {"field": "d", "type": "quantitative", "scale": {"domain": [4389.25, 4452.6], "reverse": true, "nice": false, "zero": false}, "axis": null},
        "x": {"field": "v", "type": "quantitative", "stack": null, "scale": {"domain": [0, 1000], "nice": false}, "axis": null}}},
    {"width": 63, "height": 358, "data": {"name": "logs"}, "transform": [{"filter": "datum.k === '伊利石/白云母'"}], "mark": {"type": "area", "orient": "horizontal", "fill": "#008000", "stroke": "#404040", "strokeWidth": 0.6},
      "encoding": {"y": {"field": "d", "type": "quantitative", "scale": {"domain": [4389.25, 4452.6], "reverse": true, "nice": false, "zero": false}, "axis": null},
        "x": {"field": "v", "type": "quantitative", "stack": null, "scale": {"domain": [0, 1], "nice": false}, "axis": null}}},
    {"width": 62, "height": 358, "data": {"name": "logs"}, "transform": [{"filter": "datum.k === '混合粘土'"}], "mark": {"type": "area", "orient": "horizontal", "fill": "#b4b400", "stroke": "#404040", "strokeWidth": 0.6},
      "encoding": {"y": {"field": "d", "type": "quantitative", "scale": {"domain": [4389.25, 4452.6], "reverse": true, "nice": false, "zero": false}, "axis": null},
        "x": {"field": "v", "type": "quantitative", "stack": null, "scale": {"domain": [0, 5], "nice": false}, "axis": null}}},
    {"width": 63, "height": 358, "data": {"name": "logs"}, "transform": [{"filter": "datum.k === '伊利石/蒙脱石'"}], "mark": {"type": "area", "orient": "horizontal", "fill": "#008c00", "stroke": "#404040", "strokeWidth": 0.6},
      "encoding": {"y": {"field": "d", "type": "quantitative", "scale": {"domain": [4389.25, 4452.6], "reverse": true, "nice": false, "zero": false}, "axis": null},
        "x": {"field": "v", "type": "quantitative", "stack": null, "scale": {"domain": [0, 1000], "nice": false}, "axis": null}}},
    {"width": 62, "height": 358, "data": {"name": "logs"}, "transform": [{"filter": "datum.k === '高岭石'"}], "mark": {"type": "area", "orient": "horizontal", "fill": "#7b0026", "stroke": "#404040", "strokeWidth": 0.6},
      "encoding": {"y": {"field": "d", "type": "quantitative", "scale": {"domain": [4389.25, 4452.6], "reverse": true, "nice": false, "zero": false}, "axis": null},
        "x": {"field": "v", "type": "quantitative", "stack": null, "scale": {"domain": [0, 5], "nice": false}, "axis": null}}},
    {"width": 63, "height": 358, "data": {"name": "logs"}, "transform": [{"filter": "datum.k === '高岭石(风化)'"}], "mark": {"type": "area", "orient": "horizontal", "fill": "#b88c00", "stroke": "#404040", "strokeWidth": 0.6},
      "encoding": {"y": {"field": "d", "type": "quantitative", "scale": {"domain": [4389.25, 4452.6], "reverse": true, "nice": false, "zero": false}, "axis": null},
        "x": {"field": "v", "type": "quantitative", "stack": null, "scale": {"domain": [0, 100], "nice": false}, "axis": null}}},
    {"width": 62, "height": 358, "data": {"name": "logs"}, "transform": [{"filter": "datum.k === '高岭石(铁)'"}], "mark": {"type": "area", "orient": "horizontal", "fill": "#7f5f00", "stroke": "#404040", "strokeWidth": 0.6},
      "encoding": {"y": {"field": "d", "type": "quantitative", "scale": {"domain": [4389.25, 4452.6], "reverse": true, "nice": false, "zero": false}, "axis": null},
        "x": {"field": "v", "type": "quantitative", "stack": null, "scale": {"domain": [0, 2], "nice": false}, "axis": null}}},
    {"width": 63, "height": 358, "data": {"name": "logs"}, "transform": [{"filter": "datum.k === '绿泥石'"}], "mark": {"type": "area", "orient": "horizontal", "fill": "#00e600", "stroke": "#404040", "strokeWidth": 0.6},
      "encoding": {"y": {"field": "d", "type": "quantitative", "scale": {"domain": [4389.25, 4452.6], "reverse": true, "nice": false, "zero": false}, "axis": null},
        "x": {"field": "v", "type": "quantitative", "stack": null, "scale": {"domain": [0, 100], "nice": false}, "axis": null}}},
    {"width": 62, "height": 358, "data": {"name": "logs"}, "transform": [{"filter": "datum.k === '方解石'"}], "mark": {"type": "area", "orient": "horizontal", "fill": "#00ffff", "stroke": "#404040", "strokeWidth": 0.6},
      "encoding": {"y": {"field": "d", "type": "quantitative", "scale": {"domain": [4389.25, 4452.6], "reverse": true, "nice": false, "zero": false}, "axis": null},
        "x": {"field": "v", "type": "quantitative", "stack": null, "scale": {"domain": [0, 100], "nice": false}, "axis": null}}},
    {"width": 63, "height": 358, "data": {"name": "logs"}, "transform": [{"filter": "datum.k === '岩盐'"}], "mark": {"type": "area", "orient": "horizontal", "fill": "#ff0000", "stroke": "#404040", "strokeWidth": 0.6},
      "encoding": {"y": {"field": "d", "type": "quantitative", "scale": {"domain": [4389.25, 4452.6], "reverse": true, "nice": false, "zero": false}, "axis": null},
        "x": {"field": "v", "type": "quantitative", "stack": null, "scale": {"domain": [0, 100], "nice": false}, "axis": null}}},
    {"width": 62, "height": 358, "data": {"name": "logs"}, "transform": [{"filter": "datum.k === '重晶石'"}], "mark": {"type": "area", "orient": "horizontal", "fill": "#993366", "stroke": "#404040", "strokeWidth": 0.6},
      "encoding": {"y": {"field": "d", "type": "quantitative", "scale": {"domain": [4389.25, 4452.6], "reverse": true, "nice": false, "zero": false}, "axis": null},
        "x": {"field": "v", "type": "quantitative", "stack": null, "scale": {"domain": [0, 300], "nice": false}, "axis": null}}},
    {"width": 63, "height": 358, "data": {"name": "logs"}, "transform": [{"filter": "datum.k === '黄铁矿'"}], "mark": {"type": "area", "orient": "horizontal", "fill": "#000000", "stroke": "#404040", "strokeWidth": 0.6},
      "encoding": {"y": {"field": "d", "type": "quantitative", "scale": {"domain": [4389.25, 4452.6], "reverse": true, "nice": false, "zero": false}, "axis": null},
        "x": {"field": "v", "type": "quantitative", "stack": null, "scale": {"domain": [0, 1], "nice": false}, "axis": null}}},
    {"width": 62, "height": 358, "data": {"name": "logs"}, "transform": [{"filter": "datum.k === '磷灰石'"}], "mark": {"type": "area", "orient": "horizontal", "fill": "#ff99ff", "stroke": "#404040", "strokeWidth": 0.6},
      "encoding": {"y": {"field": "d", "type": "quantitative", "scale": {"domain": [4389.25, 4452.6], "reverse": true, "nice": false, "zero": false}, "axis": null},
        "x": {"field": "v", "type": "quantitative", "stack": null, "scale": {"domain": [0, 1], "nice": false}, "axis": null}}},
    {"width": 63, "height": 358, "data": {"name": "logs"}, "transform": [{"filter": "datum.k === '金红石'"}], "mark": {"type": "area", "orient": "horizontal", "fill": "#ff5a5a", "stroke": "#404040", "strokeWidth": 0.6},
      "encoding": {"y": {"field": "d", "type": "quantitative", "scale": {"domain": [4389.25, 4452.6], "reverse": true, "nice": false, "zero": false}, "axis": null},
        "x": {"field": "v", "type": "quantitative", "stack": null, "scale": {"domain": [0, 2], "nice": false}, "axis": null}}}
  ]
}
